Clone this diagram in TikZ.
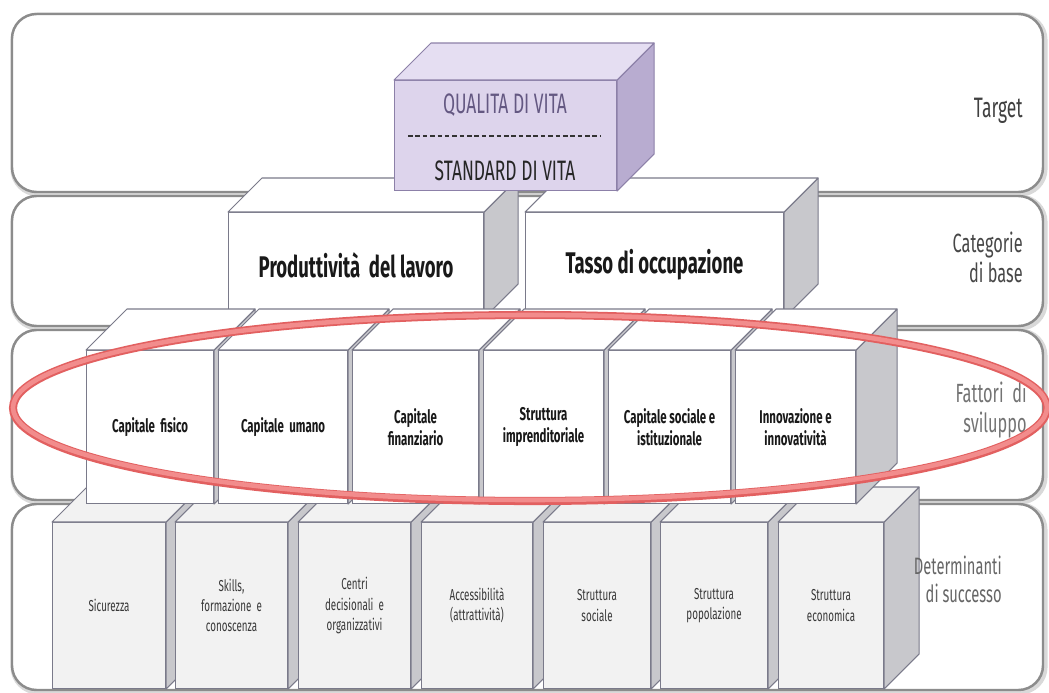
\documentclass[tikz,border=0pt]{standalone}
\usepackage{fontspec}
\setmainfont{Fira Sans}[FakeStretch=0.62]
\usetikzlibrary{positioning}

\definecolor{edge}{RGB}{122,122,138}
\definecolor{sidegray}{RGB}{200,200,204}
\definecolor{detfill}{RGB}{242,242,242}
\definecolor{lilac}{RGB}{221,212,236}
\definecolor{lilactop}{RGB}{229,222,242}
\definecolor{lilacside}{RGB}{184,172,208}
\definecolor{lilacedge}{RGB}{140,128,168}
\definecolor{lilactext}{RGB}{100,88,130}
\definecolor{ringred}{RGB}{226,96,96}
\definecolor{ringpink}{RGB}{242,140,140}

\tikzset{
  band/.style={draw=black!45, line width=1.4pt, rounded corners=14pt, fill=white},
  bandshade/.style={draw=black!15, line width=3.5pt, rounded corners=14pt},
  face/.style={draw=edge, line width=0.6pt, inner sep=0pt, align=center},
  sideface/.style={draw=edge, line width=0.6pt, fill=sidegray, line join=round},
  topface/.style={draw=edge, line width=0.6pt, fill=white, line join=round},
  rowlabel/.style={anchor=east, align=right, inner sep=0pt, font=\fontsize{15}{17}\selectfont},
}

\begin{document}
\begin{tikzpicture}[x=0.02cm, y=-0.02cm]
\useasboundingbox (0,0) rectangle (1049,693);

% fasce
\foreach \top/\bot in {14/192, 196/326, 330/500, 504/690} {
  \draw[bandshade] (13.5,\top+1.5) rectangle (1044.5,\bot+1.5);
  \draw[band] (12,\top) rectangle (1043,\bot);
}

% determinanti di successo
\foreach \i/\x/\w/\txt in {1/52/113/Sicurezza, 2/175/112/{Skills,\\formazione\ \ e\\conoscenza},
    3/298/112/{Centri\\decisionali\ \ e\\organizzativi}, 4/421/111/{Accessibilità\\(attrattività)},
    5/543/107/{Struttura\\sociale}, 6/660/107/{Struttura\\popolazione}, 7/778/105/{Struttura\\economica}} {
  \node[face, fill=detfill, text=black!78, font=\fontsize{9}{11.5}\selectfont,
        minimum width=\w*0.02cm, minimum height=166*0.02cm, anchor=north west] (det\i) at (\x,522) {\txt};
  \draw[sideface] (det\i.north east) -- ++(35,-35) -- ([shift={(35,-35)}]det\i.south east) -- (det\i.south east) -- cycle;
  \draw[topface, fill=detfill] (det\i.north west) -- ++(35,-35) -- ([shift={(35,-35)}]det\i.north east) -- (det\i.north east) -- cycle;
}

% categorie di base
\foreach \name/\x/\w/\txt in {prod/228/255/{Produttività\ \ del lavoro}, tasso/525/258/{Tasso di occupazione}} {
  \node[face, fill=white, text=black!90, font=\bfseries\fontsize{17}{19}\selectfont,
        minimum width=\w*0.02cm, minimum height=105*0.02cm, anchor=north west] (\name) at (\x,212) {\txt};
  \draw[sideface] (\name.north east) -- ++(34,-34) -- ([shift={(34,-34)}]\name.south east) -- (\name.south east) -- cycle;
  \draw[topface] (\name.north west) -- ++(34,-34) -- ([shift={(34,-34)}]\name.north east) -- (\name.north east) -- cycle;
}

% target
\node[face, draw=lilacedge, fill=lilac, minimum width=222*0.02cm, minimum height=110*0.02cm, anchor=north west] (vita) at (394,80) {};
\draw[sideface, draw=lilacedge, fill=lilacside] (vita.north east) -- ++(37,-37) -- ([shift={(37,-37)}]vita.south east) -- (vita.south east) -- cycle;
\draw[topface, draw=lilacedge, fill=lilactop] (vita.north west) -- ++(37,-37) -- ([shift={(37,-37)}]vita.north east) -- (vita.north east) -- cycle;
\node[text=lilactext, font=\fontsize{16}{18}\selectfont] (qualita) at (505,105) {QUALITA\ DI VITA};
\node[text=black!85, font=\fontsize{16}{18}\selectfont] (standard) at (505,171) {STANDARD DI VITA};
\draw[black!80, line width=0.7pt, dash pattern=on 2.6pt off 1.6pt] (408,136) -- (600,136);

% fattori di sviluppo
\foreach \i/\x/\w/\txt in {1/86/127/{Capitale\ \ fisico}, 2/218/129/{Capitale\ \ umano}, 3/352/126/{Capitale\\finanziario},
    4/483/120/{Struttura\\imprenditoriale}, 5/608/122/{Capitale sociale e\\istituzionale}, 6/735/120/{Innovazione e\\innovatività}} {
  \node[face, fill=white, text=black!90, font=\bfseries\fontsize{10.5}{12.5}\selectfont,
        minimum width=\w*0.02cm, minimum height=153*0.02cm, anchor=north west] (fat\i) at (\x,350) {\txt};
  \draw[sideface] (fat\i.north east) -- ++(41,-41) -- ([shift={(41,-41)}]fat\i.south east) -- (fat\i.south east) -- cycle;
  \draw[topface] (fat\i.north west) -- ++(41,-41) -- ([shift={(41,-41)}]fat\i.north east) -- (fat\i.north east) -- cycle;
}

% etichette delle fasce
\node[rowlabel, text=black!75, font=\fontsize{16}{18}\selectfont] (lbltarget) at (1023,111) {Target};
\node[rowlabel, text=black!72] (lblbase) at (1023,257) {Categorie\\di base};
\node[rowlabel, text=black!55] (lblfattori) at (1027,410) {Fattori\ \ di\\sviluppo};
\node[rowlabel, text=black!60, font=\fontsize{13.5}{16}\selectfont] (lbldeterm) at (1002,579) {Determinanti\\di successo};

% ellisse
\draw[ringred, line width=4.6pt] (530,408) ellipse [x radius=517, y radius=93];
\draw[ringpink, line width=2.6pt] (530,407.5) ellipse [x radius=517, y radius=92.5];
\end{tikzpicture}
\end{document}
